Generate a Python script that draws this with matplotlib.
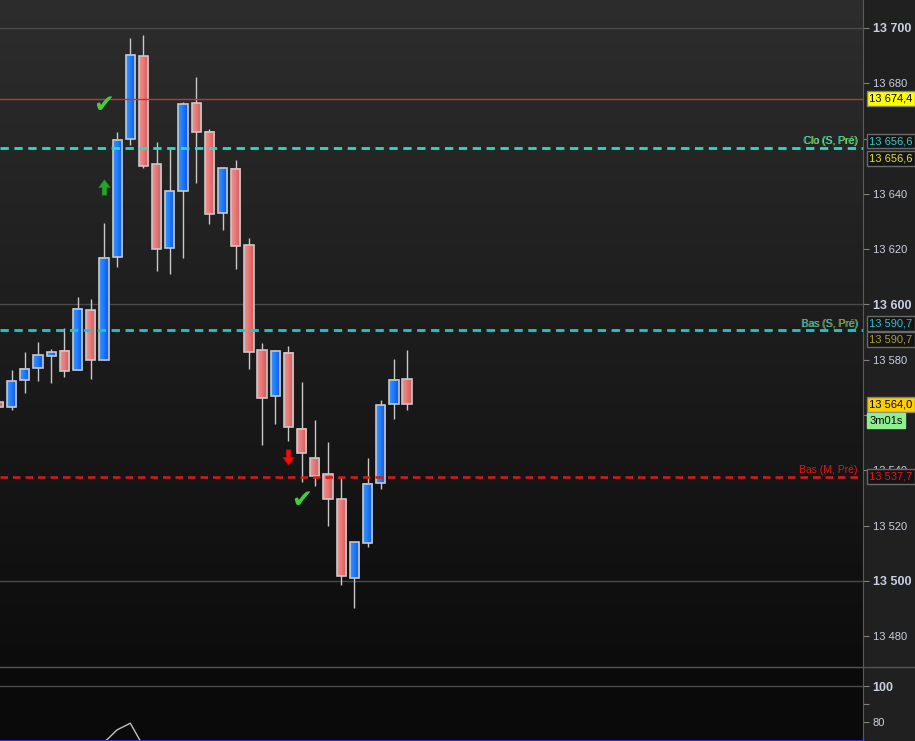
import numpy as np
import matplotlib.pyplot as plt
import matplotlib.transforms as mtransforms
from matplotlib.colors import LinearSegmentedColormap
from matplotlib.patches import Rectangle
from matplotlib.lines import Line2D
from matplotlib.path import Path

plt.rcParams['font.family'] = ['Liberation Sans', 'DejaVu Sans']

# OHLC candles (index 0 = partly cut off on the left)
opens = [13564.7, 13563.0, 13572.6, 13577.1, 13581.3, 13583.2, 13576.2, 13598.0,
         13579.8, 13617.1, 13659.7, 13689.9, 13650.8, 13620.5, 13641.2, 13672.9,
         13662.4, 13633.2, 13649.0, 13621.4, 13583.4, 13567.0, 13582.4, 13554.9,
         13544.4, 13538.6, 13529.5, 13501.2, 13513.6, 13535.3, 13563.9, 13572.9]
highs = [13565.5, 13576.3, 13582.8, 13586.4, 13583.9, 13591.6, 13602.7, 13602.0,
         13629.6, 13662.4, 13696.4, 13697.5, 13658.8, 13656.2, 13673.2, 13682.3,
         13663.5, 13649.8, 13652.3, 13623.9, 13586.1, 13583.5, 13585.0, 13572.0,
         13558.2, 13550.3, 13537.7, 13514.2, 13544.5, 13565.5, 13580.3, 13583.5]
lows = [13562.0, 13561.8, 13568.1, 13572.4, 13571.7, 13573.7, 13576.2, 13573.2,
        13579.8, 13613.7, 13657.7, 13649.5, 13612.2, 13611.1, 13616.9, 13644.1,
        13629.2, 13626.9, 13613.0, 13576.8, 13549.2, 13556.8, 13550.7, 13535.9,
        13534.5, 13520.0, 13498.6, 13490.3, 13512.4, 13533.4, 13558.7, 13561.8]
closes = [13563.0, 13572.3, 13576.7, 13581.7, 13582.7, 13575.8, 13598.4, 13580.0,
          13616.7, 13659.5, 13690.2, 13650.2, 13620.2, 13641.0, 13672.5, 13662.5,
          13632.6, 13649.4, 13621.0, 13582.9, 13566.3, 13583.1, 13555.6, 13546.2,
          13538.1, 13529.8, 13501.9, 13514.0, 13535.0, 13563.5, 13572.6, 13563.9]

# reference levels
level_high = 13674.4
level_clo = 13656.6
level_bas_s = 13590.7
level_bas_m = 13537.7
last_price = 13564.0
timer_text = '3m01s'

# signals (candle index, price)
check_marks = [(8, 13672.2), (23, 13529.3)]
up_arrows = [(8, 13642.5)]
down_arrows = [(22, 13544.9)]

# lower indicator (only the visible part)
ind_x = [8, 9, 10, 11]
ind_y = [68.5, 75.6, 79.3, 66.3]

price_ticks = list(range(13480, 13701, 20))
hidden_ticks = [13560, 13660]  # covered by the value boxes
ind_ticks = [80, 90, 100]


def fmt(v, dec=None):
    if dec is None:
        return '{:,}'.format(int(v)).replace(',', ' ')
    s = '{:,.1f}'.format(v).replace(',', ' ').replace('.', ',')
    return s


fig = plt.figure(figsize=(9.15, 7.41), dpi=100, facecolor='#202020')
ax = fig.add_axes([0, 74 / 741, 863 / 915, 667 / 741])
ax2 = fig.add_axes([0, 0, 863 / 915, 74 / 741])

xlim = (1.5 / 13.18, 864.5 / 13.18)

# background gradient
bg = LinearSegmentedColormap.from_list('bg', ['#0c0c0c', '#2d2d2d'])
ax.imshow(np.linspace(0, 1, 256).reshape(-1, 1), extent=[0, 1, 0, 1],
          transform=ax.transAxes, cmap=bg, origin='lower', aspect='auto', zorder=0)

for lvl in [13500, 13600, 13700]:
    ax.axhline(lvl, color='#4a4a4a', lw=1, zorder=1)

blue_cm = LinearSegmentedColormap.from_list('b', ['#3696ff', '#0558f2'])
red_cm = LinearSegmentedColormap.from_list('r', ['#f49292', '#d65858'])
grad = np.linspace(0, 1, 32).reshape(1, -1)
w = 0.7
for i, (o, h, l, c) in enumerate(zip(opens, highs, lows, closes)):
    ax.vlines(i, l, h, color='#c8c8c8', lw=1, zorder=2)
    lo, hi = min(o, c), max(o, c)
    cm = blue_cm if c >= o else red_cm
    ax.imshow(grad, extent=(i - w / 2, i + w / 2, lo, hi), cmap=cm,
              aspect='auto', zorder=3, interpolation='bilinear')
    ax.add_patch(Rectangle((i - w / 2, lo), w, hi - lo, fill=False,
                           ec='#c8c8c8', lw=1.2, zorder=4))

# level lines
ax.axhline(level_high, color='#c83232', lw=1, zorder=5)
ax.axhline(level_clo, color='#1fe0c8', lw=2, ls=(0, (3, 2)), zorder=5)
ax.axhline(level_bas_s, color='#18c8d0', lw=2, ls=(0, (3, 2)), zorder=5)
ax.axhline(level_bas_m, color='#e81414', lw=1.8, ls=(0, (3, 2)), zorder=5)

ly = mtransforms.blended_transform_factory(ax.transAxes, ax.transData)
lbl = dict(xycoords=ly, textcoords='offset points', ha='right', va='bottom',
           fontsize=7.5, zorder=6)
ax.annotate('Clo (S, Pré)', xy=(0.9935, level_clo), xytext=(0.6, 1.2), color='#9ae044', **lbl)
ax.annotate('Clo (S, Pré)', xy=(0.9935, level_clo), xytext=(0, 1.2), color='#22d3c5', alpha=0.8, **lbl)
ax.annotate('Bas (S, Pré)', xy=(0.9935, level_bas_s), xytext=(0.6, 1.2), color='#a8a030', **lbl)
ax.annotate('Bas (S, Pré)', xy=(0.9935, level_bas_s), xytext=(0, 1.2), color='#20c4d0', alpha=0.8, **lbl)
ax.annotate('Bas (M, Pré)', xy=(0.9935, level_bas_m), xytext=(0, 1.2), color='#e81414', **lbl)

# signals
for xi, yv in check_marks:
    ax.text(xi, yv, '\u2714', color='#3fcf3f', fontsize=18, ha='center',
            va='center', family=['DejaVu Sans'], zorder=7)
arrow = Path([(-0.3, -1), (0.3, -1), (0.3, 0), (0.75, 0), (0, 1), (-0.75, 0), (-0.3, 0), (-0.3, -1)],
             [Path.MOVETO] + [Path.LINETO] * 6 + [Path.CLOSEPOLY])
arrow_dn = Path(arrow.vertices * [1, -1], arrow.codes)
for xi, yv in up_arrows:
    ax.plot(xi, yv, marker=arrow, ms=11, color='#26a626', mec='#1e8a1e', mew=0.5, zorder=7)
for xi, yv in down_arrows:
    ax.plot(xi, yv, marker=arrow_dn, ms=11, color='#f01010', mec='#c00000', mew=0.5, zorder=7)

ax.set_xlim(*xlim)
ax.set_ylim(13468.9, 13710.1)
ax.xaxis.set_visible(False)
ax.yaxis.tick_right()
ax.set_yticks(price_ticks)
ax.set_yticklabels(['' if t in hidden_ticks else fmt(t) for t in price_ticks])
ax.tick_params(axis='y', direction='out', length=4, color='#808080',
               labelcolor='#c8d0e0', pad=3, labelsize=8)
for t, lab in zip(price_ticks, ax.get_yticklabels()):
    if t % 100 == 0:
        lab.set_fontweight('bold')
        lab.set_fontsize(9)
for s in ['left', 'top', 'bottom']:
    ax.spines[s].set_visible(False)
ax.spines['right'].set_color('#5a5a5a')

# value boxes on the price scale
box = dict(xycoords=ly, textcoords='offset points', ha='left', va='center',
           fontsize=8, annotation_clip=False, zorder=10)
dark = dict(boxstyle='square,pad=0.22', fc='#141414', ec='#6a6a6a', lw=1)
ax.annotate(fmt(level_high, 1), xy=(1, level_high), xytext=(4.5, 0), color='black',
            bbox=dict(boxstyle='square,pad=0.22', fc='#ffff00', ec='#808080', lw=1), **box)
ax.annotate(fmt(level_clo, 1), xy=(1, level_clo), xytext=(4.5, 5), color='#22d0c8', bbox=dark, **box)
ax.annotate(fmt(level_clo, 1), xy=(1, level_clo), xytext=(4.5, -7.5), color='#e6e600', bbox=dark, **box)
ax.annotate(fmt(level_bas_s, 1), xy=(1, level_bas_s), xytext=(4.5, 5), color='#20c0d0', bbox=dark, **box)
ax.annotate(fmt(level_bas_s, 1), xy=(1, level_bas_s), xytext=(4.5, -6.5), color='#a8a020', bbox=dark, **box)
ax.annotate(fmt(last_price, 1), xy=(1, last_price), xytext=(4.5, -0.5), color='black',
            bbox=dict(boxstyle='square,pad=0.22', fc='#ffd000', ec='#808080', lw=1), **box)
ax.annotate(timer_text, xy=(1, last_price), xytext=(4.5, -12), color='black',
            bbox=dict(boxstyle='square,pad=0.22', fc='#90ee90', ec='#90ee90', lw=1), **box)
ax.annotate(fmt(level_bas_m, 1), xy=(1, level_bas_m), xytext=(4.5, 0), color='#f01010', bbox=dark, **box)

# lower indicator panel
ax2.set_facecolor('#0a0a0a')
ax2.axhline(100, color='#4a4a4a', lw=1)
ax2.plot(ind_x, ind_y, color='#c0c0c0', lw=1)
ax2.set_xlim(*xlim)
ax2.set_ylim(69.4, 110.6)
ax2.xaxis.set_visible(False)
ax2.yaxis.tick_right()
ax2.set_yticks(ind_ticks)
ax2.set_yticklabels(['80', '', '100'])
ax2.tick_params(axis='y', direction='out', length=4, color='#808080',
                labelcolor='#c8d0e0', pad=3, labelsize=8)
ax2.get_yticklabels()[2].set_fontweight('bold')
ax2.get_yticklabels()[2].set_fontsize(9)
for s in ['left', 'top']:
    ax2.spines[s].set_visible(False)
ax2.spines['right'].set_color('#5a5a5a')
ax2.spines['bottom'].set_color('#2a2aff')
ax2.spines['bottom'].set_linewidth(2)

fig.add_artist(Line2D([0, 1], [74 / 741, 74 / 741], color='#555555', lw=1))

fig.savefig('out.png', dpi=100, facecolor=fig.get_facecolor())
